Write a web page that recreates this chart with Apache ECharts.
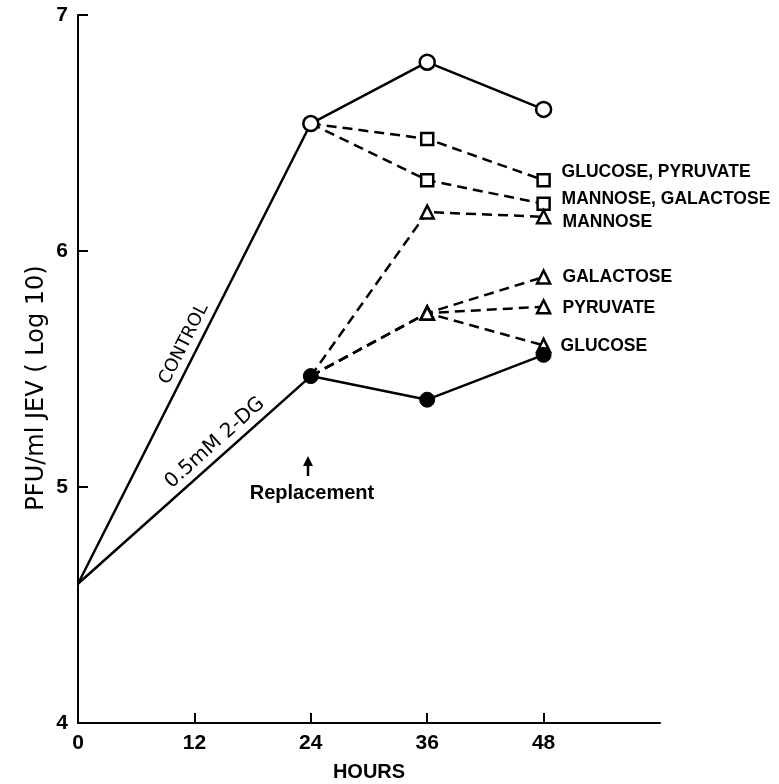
<!DOCTYPE html>
<html>
<head>
<meta charset="utf-8">
<script src="https://cdn.jsdelivr.net/npm/echarts@6/dist/echarts.min.js"></script>
<style>
html,body{margin:0;padding:0;background:#fff;}
#chart{width:779px;height:784px;}
</style>
</head>
<body>
<div id="chart"></div>
<script>
// ---- data ----
const hours = [0, 24, 36, 48];
const control = [4.59, 6.54, 6.80, 6.60];
const dg = [4.59, 5.47, 5.37, 5.56];
const repHours = [24, 36, 48];
const ctrlGlucPyr = [6.54, 6.475, 6.30];
const ctrlMannGal = [6.54, 6.30, 6.20];
const dgMannose = [5.47, 6.165, 6.145];
const dgGalactose = [5.47, 5.737, 5.89];
const dgPyruvate = [5.47, 5.737, 5.764];
const dgGlucose = [5.47, 5.737, 5.60];
const xTicks = [0, 12, 24, 36, 48];
const yTicks = [4, 5, 6, 7];

const FONT = 'Liberation Sans';
const WIDE = 'DejaVu Sans';
const chart = echarts.init(document.getElementById('chart'));

function pairs(xs, ys, firstNoSymbol) {
  return xs.map((x, i) => {
    const d = { value: [x, ys[i]] };
    if (i === 0 && firstNoSymbol) d.symbol = 'none';
    return d;
  });
}

function dashed(name, xs, ys, symbol, size, labelOffset) {
  return {
    name: name, type: 'line', z: 2,
    data: pairs(xs, ys, true),
    symbol: symbol, symbolSize: size, showAllSymbol: true,
    lineStyle: { color: '#000', width: 2.5, type: [10, 6] },
    itemStyle: { color: '#fff', borderColor: '#000', borderWidth: 2.5 },
    endLabel: {
      show: true, formatter: name, distance: 0, offset: labelOffset,
      color: '#000', fontFamily: FONT, fontWeight: 'bold', fontSize: 17.5
    },
    emphasis: { disabled: true }, animation: false
  };
}

const option = {
  animation: false,
  backgroundColor: '#fff',
  grid: { left: 78, right: 119, top: 15, bottom: 61, containLabel: false, outerBoundsMode: 'none' },
  xAxis: {
    type: 'value', min: 0, max: 60, interval: 12,
    axisLine: { lineStyle: { color: '#000', width: 2 } },
    axisTick: { inside: true, length: 10, lineStyle: { color: '#000', width: 2 }, customValues: [12, 24, 36, 48] },
    axisLabel: { customValues: xTicks, margin: 10, color: '#000', fontFamily: FONT, fontWeight: 'bold', fontSize: 21 },
    splitLine: { show: false },
    name: 'HOURS', nameLocation: 'middle', nameGap: 39,
    nameTextStyle: { color: '#000', fontFamily: FONT, fontWeight: 'bold', fontSize: 20 }
  },
  yAxis: {
    type: 'value', min: 4, max: 7, interval: 1,
    axisLine: { show: true, lineStyle: { color: '#000', width: 2 } },
    axisTick: { show: true, inside: true, length: 10, lineStyle: { color: '#000', width: 2 } },
    axisLabel: { customValues: yTicks, margin: 10, color: '#000', fontFamily: FONT, fontWeight: 'bold', fontSize: 21 },
    splitLine: { show: false }
  },
  graphic: [
    { type: 'text', x: 37, y: 388, rotation: Math.PI / 2,
      style: { text: 'PFU/ml JEV ( Log 10)', align: 'center', verticalAlign: 'middle', fill: '#000', font: '24px ' + WIDE } },
    { type: 'text', x: 184, y: 344, rotation: 63.2 * Math.PI / 180,
      style: { text: 'CONTROL', align: 'center', verticalAlign: 'middle', fill: '#000', font: '18px ' + WIDE } },
    { type: 'text', x: 215, y: 443, rotation: 41.7 * Math.PI / 180,
      style: { text: '0.5mM 2-DG', align: 'center', verticalAlign: 'middle', fill: '#000', font: '20px ' + WIDE } },
    { type: 'text', x: 312, y: 493,
      style: { text: 'Replacement', align: 'center', verticalAlign: 'middle', fill: '#000', font: 'bold 20px ' + FONT } },
    { type: 'line', shape: { x1: 308, y1: 476, x2: 308, y2: 462 }, style: { stroke: '#000', lineWidth: 2.5 } },
    { type: 'polygon', shape: { points: [[308, 456], [303, 466], [313, 466]] }, style: { fill: '#000' } }
  ],
  series: [
    dashed('GLUCOSE, PYRUVATE', repHours, ctrlGlucPyr, 'rect', 12, [18, -8]),
    dashed('MANNOSE, GALACTOSE', repHours, ctrlMannGal, 'rect', 12, [18, -5]),
    dashed('MANNOSE', repHours, dgMannose, 'triangle', 13, [19, 5]),
    dashed('GALACTOSE', repHours, dgGalactose, 'triangle', 13, [19, 0]),
    dashed('PYRUVATE', repHours, dgPyruvate, 'triangle', 13, [19, 1]),
    dashed('GLUCOSE', repHours, dgGlucose, 'triangle', 13, [17, 1]),
    {
      name: 'Control', type: 'line', z: 5,
      data: pairs(hours, control, true),
      symbol: 'circle', symbolSize: 15, showAllSymbol: true,
      lineStyle: { color: '#000', width: 2.5 },
      itemStyle: { color: '#fff', borderColor: '#000', borderWidth: 2.5 },
      emphasis: { disabled: true }
    },
    {
      name: '0.5mM 2-DG', type: 'line', z: 4,
      data: pairs(hours, dg, true),
      symbol: 'circle', symbolSize: 15, showAllSymbol: true,
      lineStyle: { color: '#000', width: 2.5 },
      itemStyle: { color: '#000', borderColor: '#000', borderWidth: 1 },
      emphasis: { disabled: true }
    }
  ]
};
chart.setOption(option);
</script>
</body>
</html>
